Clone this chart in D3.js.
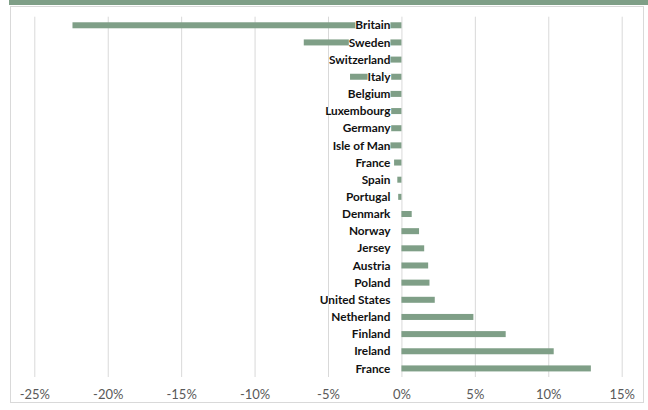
<!DOCTYPE html>
<html><head><meta charset="utf-8">
<script src="https://cdn.jsdelivr.net/npm/d3@7"></script>
<style>body{margin:0;background:#fff}svg{display:block}</style>
</head><body><svg id="c" width="648" height="410"></svg>
<script>
const categories = ["Britain","Sweden","Switzerland","Italy","Belgium","Luxembourg","Germany","Isle of Man","France","Spain","Portugal","Denmark","Norway","Jersey","Austria","Poland","United States","Netherland","Finland","Ireland","France"];
const values = [-22.4,-6.65,-4.3,-3.5,-3.0,-2.1,-1.7,-1.2,-0.5,-0.28,-0.22,0.7,1.2,1.55,1.82,1.91,2.27,4.9,7.1,10.37,12.9];
const tickValues = [-25,-20,-15,-10,-5,0,5,10,15];

const svg = d3.select("#c");
const green = "#7f9f87";
svg.append("rect").attr("x",9).attr("y",0).attr("width",639).attr("height",5).attr("fill",green);
svg.append("rect").attr("x",10.5).attr("y",6.5).attr("width",633).attr("height",396).attr("fill","#fff").attr("stroke","#d9d9d9").attr("stroke-width",1);

const x = d3.scaleLinear().domain([-25,15]).range([34.3,621.7]);
const idx = categories.map((c,i)=>i);
const y = d3.scaleBand().domain(idx).range([16.7,377]).paddingInner(0.65).paddingOuter(0.325);

const gx = svg.append("g").attr("transform","translate(0,377)")
  .call(d3.axisBottom(x).tickValues(tickValues).tickSize(-360.3).tickFormat(d=>d+"%"));
gx.select(".domain").remove();
gx.selectAll(".tick line").attr("stroke","#d9d9d9").attr("stroke-width",1);
gx.selectAll(".tick text").attr("dy",0).attr("y",21.5).attr("fill","#595959")
  .attr("font-family","Lato, 'Open Sans', sans-serif").attr("font-size","13px");

svg.append("g").selectAll("rect").data(idx).join("rect")
  .attr("x",i=>x(Math.min(0,values[i])))
  .attr("width",i=>Math.abs(x(values[i])-x(0)))
  .attr("y",i=>y(i)).attr("height",y.bandwidth())
  .attr("fill",green);

const lg = svg.append("g");
idx.forEach(i=>{
  const g = lg.append("g");
  const t = g.append("text").attr("x",x(0)-11).attr("y",y(i)+y.bandwidth()/2).attr("dy","0.35em")
    .attr("text-anchor","end").attr("font-family","Lato, 'Open Sans', sans-serif")
    .attr("font-weight","bold").attr("font-size","11.8px").attr("fill","#111").text(categories[i]);
  const b = t.node().getBBox();
  g.insert("rect","text").attr("x",b.x).attr("y",y(i)-0.5).attr("width",b.width).attr("height",y.bandwidth()+1).attr("fill","#fff");
});
</script></body></html>
